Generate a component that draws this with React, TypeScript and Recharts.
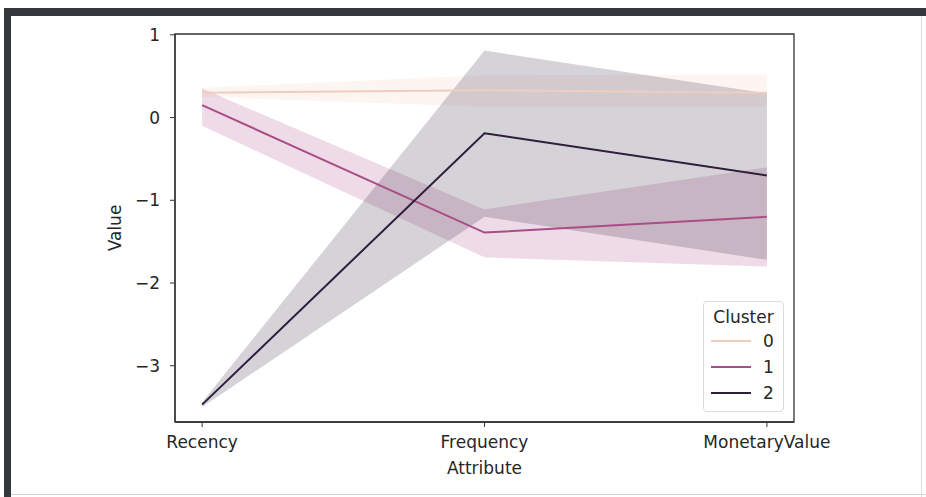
import React from 'react';
import {
    ComposedChart, Line, Area, XAxis, YAxis, ReferenceArea, Label
} from 'recharts';

// attributes on the x axis
const attributes = ['Recency', 'Frequency', 'MonetaryValue'];
const yTicks = [-3, -2, -1, 0, 1];
const clusters = ['0', '1', '2'];

// mean value per cluster
const cluster0 = [0.30, 0.33, 0.30];
const cluster1 = [0.15, -1.39, -1.20];
const cluster2 = [-3.47, -0.19, -0.70];

// confidence band per cluster (low / high)
const cluster0Low = [0.25, 0.13, 0.13];
const cluster0High = [0.36, 0.51, 0.52];
const cluster1Low = [-0.10, -1.69, -1.80];
const cluster1High = [0.35, -1.11, -0.60];
const cluster2Low = [-3.50, -1.20, -1.72];
const cluster2High = [-3.44, 0.81, 0.29];

const COLORS = ['#efcdbf', '#a84d86', '#2d1e3e'];
const FONT = '"DejaVu Sans", sans-serif';
const TEXT = '#262626';

const rows = attributes.map((name, i) => ({
    x: i,
    name,
    c0: cluster0[i],
    c1: cluster1[i],
    c2: cluster2[i],
    b0: [cluster0Low[i], cluster0High[i]],
    b1: [cluster1Low[i], cluster1High[i]],
    b2: [cluster2Low[i], cluster2High[i]],
}));

const X_DOMAIN: [number, number] = [-0.096, 2.096];
const Y_DOMAIN: [number, number] = [-3.68, 1.01];

const fmtY = (v: number) => String(v).replace('-', '\u2212');

const ClusterLegend = () => (
    <div style={{
        position: 'absolute', left: 703, top: 301,
        width: 81, height: 111, boxSizing: 'border-box', background: 'rgba(255,255,255,0.85)',
        border: '1px solid #dcdcdc', borderRadius: 4, fontFamily: FONT, color: TEXT, fontSize: 17,
        paddingTop: 4,
    }}>
        <div style={{ textAlign: 'center', lineHeight: '22px' }}>Cluster</div>
        {clusters.map((c, i) => (
            <div key={c} style={{ display: 'flex', alignItems: 'center', height: 26, marginLeft: 7 }}>
                <div style={{ width: 40, height: 2, background: COLORS[i] }} />
                <span style={{ marginLeft: 12 }}>{c}</span>
            </div>
        ))}
    </div>
);

const App: React.FC = () => {
    return (
        <div style={{ position: 'absolute', left: 0, top: 0, width: 926, height: 497, background: '#fff', overflow: 'hidden' }}>
            {/* screenshot frame */}
            <div style={{ position: 'absolute', left: 4, top: 8, right: 0, height: 8, background: '#34373c' }} />
            <div style={{ position: 'absolute', left: 4, top: 8, width: 7, bottom: 0, background: '#34373c' }} />
            <div style={{ position: 'absolute', left: 11, right: 0, top: 494, height: 1, background: '#d4d4d4' }} />
            <div style={{ position: 'absolute', left: 921, top: 16, width: 1, bottom: 0, background: '#dedede' }} />

            <div style={{ position: 'absolute', left: 0, top: 0 }}>
                <ComposedChart
                    width={926}
                    height={497}
                    data={rows}
                    margin={{ top: 34, right: 132, bottom: 15, left: 55 }}
                >
                    <XAxis
                        dataKey="x"
                        type="number"
                        domain={X_DOMAIN}
                        ticks={[0, 1, 2]}
                        allowDataOverflow
                        tickFormatter={(i: number) => attributes[i]}
                        tickSize={5}
                        tickMargin={9}
                        height={60}
                        axisLine={{ stroke: '#333', strokeWidth: 1.3 }}
                        tickLine={{ stroke: '#333' }}
                        tick={{ fill: TEXT, fontSize: 17, fontFamily: FONT }}
                    >
                        <Label value="Attribute" position="insideBottom" offset={8}
                            style={{ fill: TEXT, fontSize: 17, fontFamily: FONT }} />
                    </XAxis>
                    <YAxis
                        type="number"
                        domain={Y_DOMAIN}
                        ticks={yTicks}
                        allowDataOverflow
                        tickFormatter={fmtY}
                        tickSize={5}
                        tickMargin={10}
                        width={120}
                        axisLine={{ stroke: '#333', strokeWidth: 1.3 }}
                        tickLine={{ stroke: '#333' }}
                        tick={{ fill: TEXT, fontSize: 17, fontFamily: FONT }}
                    >
                        <Label value="Value" angle={-90} position="center"
                            style={{ fill: TEXT, fontSize: 17, fontFamily: FONT }} />
                    </YAxis>

                    <Area dataKey="b0" type="linear" stroke="none" fill={COLORS[0]} fillOpacity={0.2} isAnimationActive={false} />
                    <Area dataKey="b1" type="linear" stroke="none" fill={COLORS[1]} fillOpacity={0.2} isAnimationActive={false} />
                    <Area dataKey="b2" type="linear" stroke="none" fill={COLORS[2]} fillOpacity={0.2} isAnimationActive={false} />

                    <Line dataKey="c0" type="linear" stroke={COLORS[0]} strokeWidth={2} dot={false} isAnimationActive={false} />
                    <Line dataKey="c1" type="linear" stroke={COLORS[1]} strokeWidth={2} dot={false} isAnimationActive={false} />
                    <Line dataKey="c2" type="linear" stroke={COLORS[2]} strokeWidth={2} dot={false} isAnimationActive={false} />

                    <ReferenceArea x1={X_DOMAIN[0]} x2={X_DOMAIN[1]} y1={Y_DOMAIN[0]} y2={Y_DOMAIN[1]}
                        fill="none" stroke="#333" strokeWidth={1.3} />
                </ComposedChart>
            </div>
            <ClusterLegend />
        </div>
    );
};

export default App;
